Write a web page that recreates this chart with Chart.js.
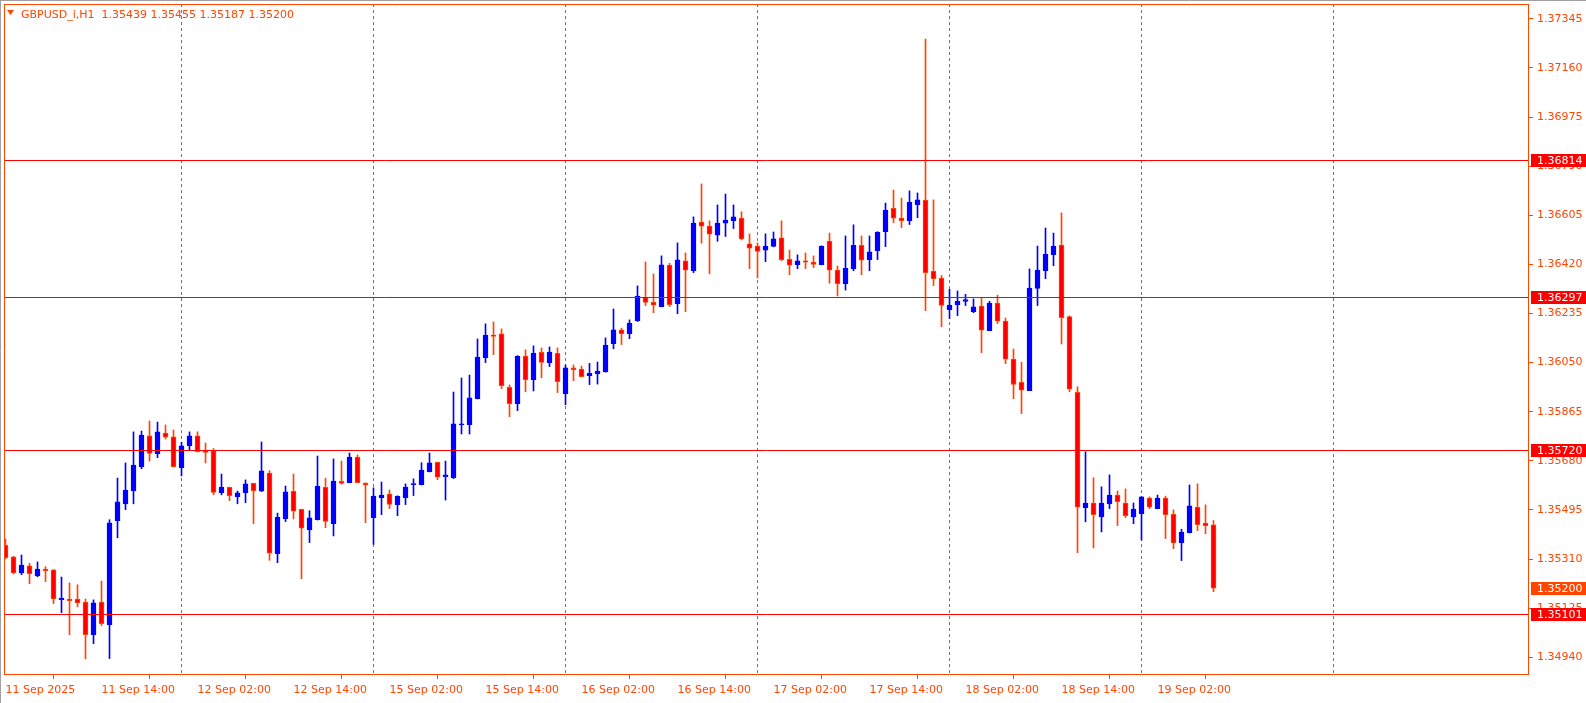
<!DOCTYPE html>
<html>
<head>
<meta charset="utf-8">
<script src="https://cdn.jsdelivr.net/npm/chart.js@4.4.1/dist/chart.umd.min.js"></script>
<style>
  html, body { margin: 0; padding: 0; background: #fff; }
  #wrap { position: relative; width: 1586px; height: 703px; }
</style>
</head>
<body>
<div id="wrap"><canvas id="chart" width="1586" height="703"></canvas></div>
<script>
// GBPUSD H1, one entry per bar (11 Sep 02:00 .. 19 Sep 09:00)
const opens = [
  1.35362, 1.35318, 1.35258, 1.35284, 1.35246, 1.35272, 1.35269, 1.35157, 1.35159, 1.35159,
  1.35148, 1.35025, 1.35148, 1.35063, 1.35454, 1.35518, 1.35567, 1.35658, 1.35774, 1.35707,
  1.35784, 1.35770, 1.35654, 1.35737, 1.35774, 1.35720, 1.35718, 1.35560, 1.35580, 1.35545,
  1.35560, 1.35595, 1.35566, 1.35634, 1.35330, 1.35462, 1.35565, 1.35497, 1.35420, 1.35458,
  1.35580, 1.35443, 1.35603, 1.35598, 1.35694, 1.35596, 1.35466, 1.35541, 1.35555, 1.35515,
  1.35541, 1.35590, 1.35590, 1.35639, 1.35674, 1.35620, 1.35616, 1.35815, 1.35816, 1.35914,
  1.36069, 1.36154, 1.36158, 1.35957, 1.35895, 1.36075, 1.35986, 1.36089, 1.36050, 1.36085,
  1.35933, 1.36030, 1.36026, 1.36001, 1.36008, 1.36015, 1.36121, 1.36173, 1.36159, 1.36207,
  1.36296, 1.36277, 1.36261, 1.36417, 1.36272, 1.36433, 1.36396, 1.36579, 1.36564, 1.36530,
  1.36575, 1.36585, 1.36594, 1.36497, 1.36489, 1.36474, 1.36488, 1.36520, 1.36439, 1.36419,
  1.36433, 1.36429, 1.36419, 1.36508, 1.36399, 1.36347, 1.36404, 1.36492, 1.36438, 1.36472,
  1.36543, 1.36631, 1.36594, 1.36585, 1.36645, 1.36662, 1.36394, 1.36368, 1.36249, 1.36268,
  1.36280, 1.36242, 1.36263, 1.36170, 1.36274, 1.36206, 1.36063, 1.35976, 1.35944, 1.36329,
  1.36396, 1.36457, 1.36493, 1.36223, 1.35938, 1.35503, 1.35521, 1.35469, 1.35518, 1.35551,
  1.35521, 1.35469, 1.35481, 1.35540, 1.35500, 1.35540, 1.35478, 1.35371, 1.35409, 1.35506,
  1.35445, 1.35439
];
const highs = [
  1.35385, 1.35320, 1.35325, 1.35294, 1.35299, 1.35281, 1.35270, 1.35242, 1.35220, 1.35213,
  1.35159, 1.35156, 1.35227, 1.35458, 1.35615, 1.35672, 1.35789, 1.35792, 1.35830, 1.35826,
  1.35815, 1.35796, 1.35750, 1.35789, 1.35789, 1.35747, 1.35726, 1.35630, 1.35581, 1.35566,
  1.35608, 1.35596, 1.35751, 1.35643, 1.35483, 1.35585, 1.35630, 1.35498, 1.35492, 1.35698,
  1.35614, 1.35687, 1.35679, 1.35709, 1.35702, 1.35597, 1.35578, 1.35600, 1.35570, 1.35548,
  1.35593, 1.35612, 1.35673, 1.35709, 1.35675, 1.35679, 1.35939, 1.35992, 1.36003, 1.36139,
  1.36196, 1.36203, 1.36177, 1.35966, 1.36076, 1.36098, 1.36113, 1.36105, 1.36109, 1.36105,
  1.36041, 1.36041, 1.36037, 1.36047, 1.36052, 1.36143, 1.36252, 1.36180, 1.36211, 1.36339,
  1.36429, 1.36384, 1.36452, 1.36424, 1.36501, 1.36463, 1.36599, 1.36723, 1.36584, 1.36644,
  1.36685, 1.36644, 1.36618, 1.36535, 1.36501, 1.36535, 1.36542, 1.36584, 1.36474, 1.36456,
  1.36463, 1.36452, 1.36490, 1.36538, 1.36414, 1.36527, 1.36569, 1.36527, 1.36527, 1.36543,
  1.36651, 1.36700, 1.36670, 1.36697, 1.36689, 1.37269, 1.36663, 1.36378, 1.36326, 1.36320,
  1.36307, 1.36290, 1.36296, 1.36281, 1.36304, 1.36218, 1.36101, 1.36051, 1.36403, 1.36489,
  1.36557, 1.36538, 1.36614, 1.36226, 1.35959, 1.35714, 1.35616, 1.35582, 1.35627, 1.35566,
  1.35574, 1.35521, 1.35545, 1.35544, 1.35551, 1.35547, 1.35495, 1.35422, 1.35589, 1.35593,
  1.35514, 1.35455
];
const lows = [
  1.35310, 1.35254, 1.35251, 1.35217, 1.35243, 1.35225, 1.35142, 1.35108, 1.35025, 1.35130,
  1.34934, 1.34991, 1.35059, 1.34935, 1.35390, 1.35496, 1.35518, 1.35650, 1.35679, 1.35692,
  1.35762, 1.35656, 1.35623, 1.35718, 1.35713, 1.35672, 1.35552, 1.35552, 1.35530, 1.35518,
  1.35522, 1.35443, 1.35564, 1.35305, 1.35296, 1.35451, 1.35461, 1.35236, 1.35372, 1.35457,
  1.35428, 1.35397, 1.35592, 1.35597, 1.35597, 1.35447, 1.35365, 1.35477, 1.35500, 1.35473,
  1.35515, 1.35549, 1.35589, 1.35638, 1.35609, 1.35532, 1.35613, 1.35781, 1.35781, 1.35913,
  1.36050, 1.36080, 1.35952, 1.35846, 1.35869, 1.35940, 1.35943, 1.35993, 1.36035, 1.35937,
  1.35891, 1.35982, 1.35996, 1.35967, 1.35969, 1.36014, 1.36102, 1.36118, 1.36140, 1.36205,
  1.36265, 1.36238, 1.36260, 1.36261, 1.36234, 1.36242, 1.36389, 1.36500, 1.36385, 1.36507,
  1.36525, 1.36555, 1.36512, 1.36404, 1.36369, 1.36430, 1.36486, 1.36434, 1.36381, 1.36404,
  1.36404, 1.36408, 1.36418, 1.36349, 1.36301, 1.36323, 1.36396, 1.36381, 1.36396, 1.36438,
  1.36487, 1.36577, 1.36558, 1.36570, 1.36596, 1.36246, 1.36340, 1.36185, 1.36216, 1.36227,
  1.36265, 1.36238, 1.36087, 1.36170, 1.36197, 1.36046, 1.35914, 1.35858, 1.35944, 1.36265,
  1.36366, 1.36415, 1.36120, 1.35940, 1.35334, 1.35450, 1.35352, 1.35412, 1.35500, 1.35436,
  1.35466, 1.35443, 1.35381, 1.35500, 1.35500, 1.35387, 1.35349, 1.35304, 1.35408, 1.35417,
  1.35405, 1.35187
];
const closes = [
  1.35315, 1.35258, 1.35287, 1.35255, 1.35272, 1.35266, 1.35160, 1.35163, 1.35153, 1.35145,
  1.35025, 1.35145, 1.35066, 1.35446, 1.35525, 1.35570, 1.35664, 1.35777, 1.35708, 1.35789,
  1.35769, 1.35658, 1.35736, 1.35774, 1.35714, 1.35712, 1.35561, 1.35581, 1.35549, 1.35559,
  1.35593, 1.35567, 1.35642, 1.35332, 1.35467, 1.35563, 1.35490, 1.35426, 1.35465, 1.35585,
  1.35452, 1.35604, 1.35595, 1.35694, 1.35598, 1.35588, 1.35547, 1.35551, 1.35516, 1.35547,
  1.35581, 1.35594, 1.35645, 1.35672, 1.35618, 1.35627, 1.35819, 1.35819, 1.35917, 1.36071,
  1.36154, 1.36149, 1.35963, 1.35895, 1.36075, 1.35986, 1.36086, 1.36051, 1.36090, 1.35978,
  1.36030, 1.36023, 1.35997, 1.36010, 1.36018, 1.36116, 1.36173, 1.36159, 1.36199, 1.36301,
  1.36277, 1.36266, 1.36418, 1.36268, 1.36437, 1.36398, 1.36576, 1.36564, 1.36534, 1.36576,
  1.36587, 1.36599, 1.36516, 1.36481, 1.36469, 1.36489, 1.36516, 1.36438, 1.36417, 1.36433,
  1.36428, 1.36420, 1.36489, 1.36398, 1.36347, 1.36405, 1.36492, 1.36436, 1.36467, 1.36542,
  1.36625, 1.36594, 1.36585, 1.36655, 1.36663, 1.36389, 1.36366, 1.36265, 1.36267, 1.36281,
  1.36287, 1.36260, 1.36172, 1.36274, 1.36206, 1.36063, 1.35968, 1.35946, 1.36331, 1.36399,
  1.36459, 1.36489, 1.36219, 1.35950, 1.35505, 1.35521, 1.35477, 1.35521, 1.35551, 1.35526,
  1.35473, 1.35498, 1.35544, 1.35505, 1.35540, 1.35477, 1.35371, 1.35411, 1.35510, 1.35439,
  1.35436, 1.35200
];

// time axis labels (bar index -> text)
const timeTickBars = [0, 12, 24, 36, 48, 60, 72, 84, 96, 108, 120, 132, 144];
const timeTickLabels = [
  '11 Sep 2025', '11 Sep 14:00', '12 Sep 02:00', '12 Sep 14:00', '15 Sep 02:00',
  '15 Sep 14:00', '16 Sep 02:00', '16 Sep 14:00', '17 Sep 02:00', '17 Sep 14:00',
  '18 Sep 02:00', '18 Sep 14:00', '19 Sep 02:00'
];
// day separators (bar index of 00:00)
const daySeparatorBars = [22, 46, 70, 94, 118, 142, 166];

const priceTicks = [
  1.34940, 1.35125, 1.35310, 1.35495, 1.35680, 1.35865, 1.36050,
  1.36235, 1.36420, 1.36605, 1.36790, 1.36975, 1.37160, 1.37345
];
const levelPrices = [1.36814, 1.36297, 1.35720, 1.35101];
const lastPrice = 1.35200;
const headerText = 'GBPUSD_i,H1  1.35439 1.35455 1.35187 1.35200';

const BULL = '#0000FF';
const BEAR_FILL = '#FF0000';
const BEAR_LINE = '#FF4500';
const AXIS = '#FF4500';
const LEVEL = '#FF0000';
const FONT = 'DejaVu Sans';

const bars = opens.map((_, i) => i);
const isBull = i => closes[i] >= opens[i];

const wickData = bars.map(i => ({ x: i, y: [lows[i], highs[i]] }));
const bodyData = bars.map(i => ({ x: i, y: [opens[i], closes[i]] }));

// no automatic label padding: the plot box is fixed like the terminal's
const noPadding = s => {
  s.paddingTop = 0; s.paddingBottom = 0; s.paddingLeft = 0; s.paddingRight = 0;
};

// Draws day separators, level lines, price labels, frame and header
const terminalPlugin = {
  id: 'terminal',
  beforeDatasetsDraw(chart) {
    const { ctx, chartArea: a, scales: { x } } = chart;
    ctx.save();
    ctx.strokeStyle = AXIS;
    ctx.lineWidth = 1;
    ctx.setLineDash([3, 3]);
    daySeparatorBars.forEach(b => {
      const px = Math.floor(x.getPixelForValue(b)) + 0.5;
      if (px < a.left || px > a.right) return;
      ctx.beginPath();
      ctx.moveTo(px, a.top);
      ctx.lineTo(px, a.bottom);
      ctx.stroke();
    });
    ctx.restore();
  },
  afterDatasetsDraw(chart) {
    const { ctx, chartArea: a, scales: { y } } = chart;
    ctx.save();
    ctx.strokeStyle = LEVEL;
    ctx.lineWidth = 1;
    levelPrices.forEach(p => {
      const py = Math.round(y.getPixelForValue(p)) + 0.5;
      ctx.beginPath();
      ctx.moveTo(a.left, py);
      ctx.lineTo(a.right, py);
      ctx.stroke();
    });
    ctx.restore();
  },
  afterDraw(chart) {
    const { ctx, chartArea: a, scales: { y }, width, height } = chart;
    ctx.save();
    // window edges
    ctx.strokeStyle = '#A0A0A0';
    ctx.lineWidth = 1;
    ctx.beginPath();
    ctx.moveTo(0, 0.5); ctx.lineTo(width, 0.5);
    ctx.moveTo(0.5, 0); ctx.lineTo(0.5, height);
    ctx.stroke();
    // plot frame
    ctx.strokeStyle = AXIS;
    ctx.strokeRect(a.left + 0.5, a.top + 0.5, a.right - a.left - 1, a.bottom - a.top - 1);

    // price labels on the axis
    ctx.font = '11px "' + FONT + '"';
    ctx.textBaseline = 'middle';
    const tag = (p, bg) => {
      const py = Math.round(y.getPixelForValue(p));
      ctx.fillStyle = bg;
      ctx.fillRect(a.right + 2, py - 6, width - a.right - 2, 13);
      ctx.fillStyle = '#FFFFFF';
      ctx.fillText(p.toFixed(5), a.right + 8, py + 1);
    };
    levelPrices.forEach(p => tag(p, LEVEL));
    tag(lastPrice, '#FF4500');

    // header
    ctx.fillStyle = AXIS;
    ctx.beginPath();
    ctx.moveTo(7, 10); ctx.lineTo(14, 10); ctx.lineTo(10.5, 15);
    ctx.closePath();
    ctx.fill();
    ctx.textBaseline = 'alphabetic';
    ctx.fillText(headerText, 21, 18);
    ctx.restore();
  }
};

new Chart(document.getElementById('chart'), {
  type: 'bar',
  data: {
    datasets: [
      {
        label: 'wick',
        data: wickData,
        grouped: false,
        barThickness: 1,
        backgroundColor: bars.map(i => isBull(i) ? BULL : BEAR_LINE),
        borderWidth: 0,
        order: 2
      },
      {
        label: 'body',
        data: bodyData,
        grouped: false,
        barThickness: 5,
        minBarLength: 1,
        backgroundColor: bars.map(i => isBull(i) ? BULL : BEAR_FILL),
        borderColor: bars.map(i => isBull(i) ? BULL : BEAR_LINE),
        borderWidth: 1,
        borderSkipped: false,
        order: 1
      }
    ]
  },
  options: {
    responsive: false,
    animation: false,
    devicePixelRatio: 1,
    layout: { padding: { left: 4, top: 4, right: 0, bottom: 0 } },
    plugins: { legend: { display: false }, tooltip: { enabled: false } },
    scales: {
      x: {
        type: 'linear',
        offset: false,
        min: -0.1875,
        max: 190.4375,
        afterBuildTicks: s => { s.ticks = timeTickBars.map(v => ({ value: v })); },
        afterFit: s => { s.height = 28; noPadding(s); },
        grid: { drawOnChartArea: false, drawTicks: true, tickLength: 4, color: AXIS },
        border: { display: false },
        ticks: {
          autoSkip: false,
          maxRotation: 0,
          align: 'start',
          padding: 5,
          color: AXIS,
          font: { family: FONT, size: 11 },
          callback: (v, i) => timeTickLabels[i]
        }
      },
      y: {
        position: 'right',
        min: 1.34873,
        max: 1.37401,
        afterBuildTicks: s => { s.ticks = priceTicks.map(v => ({ value: v })); },
        afterFit: s => { s.width = 57; noPadding(s); },
        grid: { drawOnChartArea: false, drawTicks: true, tickLength: 4, color: AXIS },
        border: { display: false },
        ticks: {
          autoSkip: false,
          padding: 4,
          color: AXIS,
          font: { family: FONT, size: 11 },
          callback: v => v.toFixed(5)
        }
      }
    }
  },
  plugins: [terminalPlugin]
});
</script>
</body>
</html>
